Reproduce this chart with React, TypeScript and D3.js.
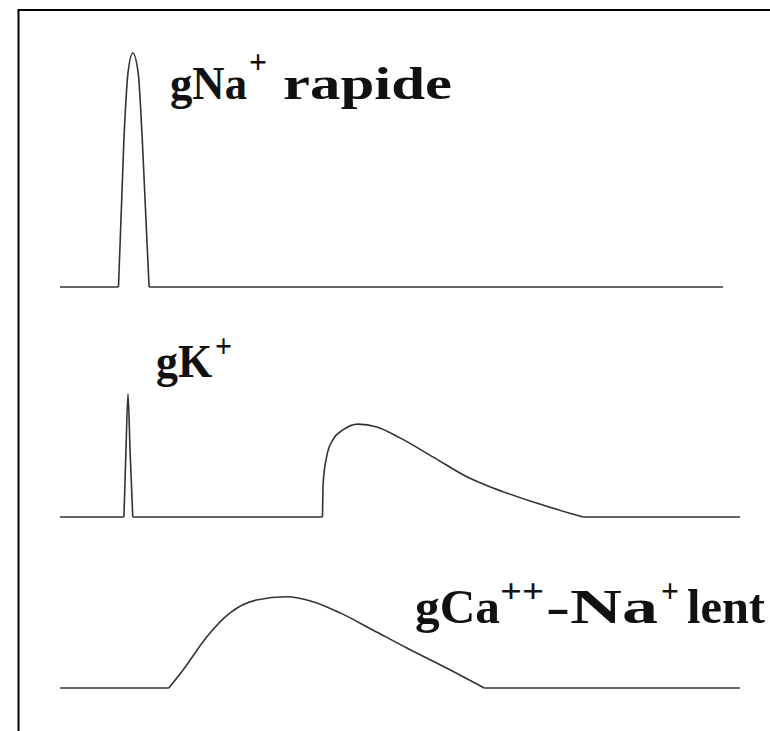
import React from "react";
import * as d3 from "d3";

// Time axis (arbitrary units, 0–100) and normalised conductance g (0–1)
type Pt = [number, number];

// Fast Na+ conductance: one brief spike
const naSpike: Pt[] = [
  [8.6, 0], [9.4, 0.63], [10.0, 0.915], [10.7, 1.0], [11.5, 0.915], [12.1, 0.63], [13.1, 0],
];

// K+ conductance: brief spike, then slow delayed pulse
const kSpike: Pt[] = [
  [9.4, 0], [9.7, 0.286], [10.0, 0.526], [10.3, 0.286], [10.7, 0],
];
const kSlow: Pt[] = [
  [38.6, 0], [38.7, 0.145], [39.2, 0.256], [40.1, 0.329], [41.6, 0.372], [43.8, 0.397],
  [46.6, 0.385], [50.0, 0.338], [54.9, 0.256], [59.9, 0.171], [63.7, 0.124], [69.6, 0.064], [76.9, 0],
];

// Slow Ca++/Na+ conductance
const caSlow: Pt[] = [
  [16.0, 0], [18.1, 0.077], [21.6, 0.219], [25.0, 0.321], [28.9, 0.376], [33.3, 0.39],
  [37.2, 0.369], [41.2, 0.321], [46.0, 0.248], [51.0, 0.171], [57.4, 0.077], [62.4, 0],
];

const traceEnds = [97.5, 100, 100];

// Label pieces: main text and superscript charges
const labelNa = ["gNa", "+", "rapide"];
const labelK = ["gK", "+"];
const labelCa = ["gCa", "++", "-Na", "+", "lent"];

interface Panel {
  pulses: Pt[][];
  end: number;
  baseY: number;
}

const W = 770;
const H = 731;

const x = d3.scaleLinear().domain([0, 100]).range([60, 740]);

const panels: Panel[] = [
  { pulses: [naSpike], end: traceEnds[0], baseY: 287 },
  { pulses: [kSpike, kSlow], end: traceEnds[1], baseY: 517 },
  { pulses: [caSlow], end: traceEnds[2], baseY: 688 },
];

const STROKE = "#333";

function PanelTrace({ p }: { p: Panel }) {
  const y = d3.scaleLinear().domain([0, 1]).range([p.baseY, p.baseY - 234]);
  const curve = d3
    .line<Pt>()
    .x((d) => x(d[0]))
    .y((d) => y(d[1]))
    .curve(d3.curveMonotoneX);
  const straight = d3
    .line<Pt>()
    .x((d) => x(d[0]))
    .y((d) => y(d[1]));

  // Flat baseline pieces between the pulses
  const flats: Pt[][] = [];
  let t0 = 0;
  p.pulses.forEach((pulse) => {
    flats.push([[t0, 0], [pulse[0][0], 0]]);
    t0 = pulse[pulse.length - 1][0];
  });
  flats.push([[t0, 0], [p.end, 0]]);

  return (
    <g fill="none" stroke={STROKE} strokeWidth={1.6} strokeLinejoin="round">
      {flats.map((f, i) => (
        <path key={"f" + i} d={straight(f) || ""} />
      ))}
      {p.pulses.map((pulse, i) => (
        <path key={"p" + i} d={curve(pulse) || ""} />
      ))}
    </g>
  );
}

const FONT = "'Liberation Serif', 'Times New Roman', serif";

function Word({ t, x0, y0, len, size = 46 }: { t: string; x0: number; y0: number; len: number; size?: number }) {
  return (
    <text x={x0} y={y0} textLength={len} lengthAdjust="spacingAndGlyphs" fontWeight="bold" fontSize={size}>
      {t}
    </text>
  );
}

function Sup({ t, x0, y0, len }: { t: string; x0: number; y0: number; len: number }) {
  return (
    <text x={x0} y={y0} textLength={len} lengthAdjust="spacingAndGlyphs" fontWeight="bold" fontSize={34}>
      {t}
    </text>
  );
}

export default function App() {
  return (
    <svg
      width={W}
      height={H}
      style={{ position: "absolute", left: 0, top: 0, background: "#fff" }}
    >
      <rect x={18.5} y={10} width={W + 20} height={H + 20} fill="#fff" stroke="#000" strokeWidth={2} />
      {panels.map((p, i) => (
        <PanelTrace key={i} p={p} />
      ))}
      <g fontFamily={FONT} fill="#111">
        <Word t={labelNa[0]} x0={170} y0={99} len={77} />
        <Sup t={labelNa[1]} x0={249} y0={73} len={18} />
        <Word t={labelNa[2]} x0={283} y0={99} len={169} />

        <Word t={labelK[0]} x0={156} y0={377} len={56} />
        <Sup t={labelK[1]} x0={215} y0={357} len={17} />

        <Word t={labelCa[0]} x0={415} y0={623} len={85} size={48} />
        <Sup t={labelCa[1]} x0={500} y0={602} len={44} />
        <Word t={labelCa[2]} x0={546} y0={623} len={112} size={48} />
        <Sup t={labelCa[3]} x0={661} y0={602} len={18} />
        <Word t={labelCa[4]} x0={687} y0={623} len={78} size={48} />
      </g>
    </svg>
  );
}
